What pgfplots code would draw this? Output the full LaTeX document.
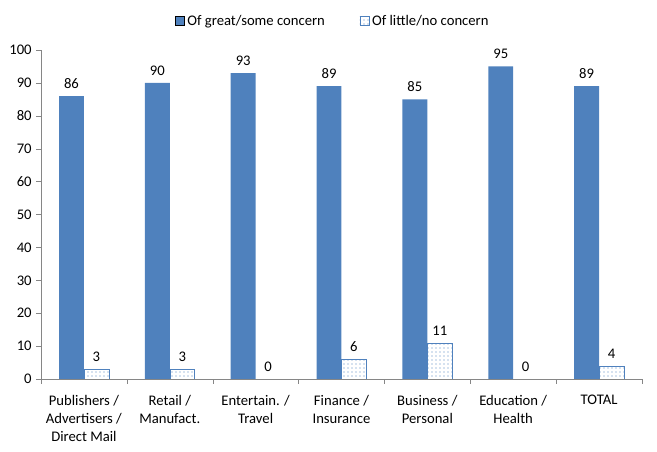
\documentclass[border=0pt]{standalone}
\usepackage{fontspec}
\setmainfont{Carlito}
\usepackage{pgfplots}
\pgfplotsset{compat=1.18}
\usetikzlibrary{patterns}
\definecolor{cblue}{RGB}{79,129,189}
\definecolor{cgray}{RGB}{134,134,134}
\begin{document}
\begin{tikzpicture}
\path[use as bounding box] (-30.75pt,-54.75pt) rectangle (462pt,284.25pt);
\begin{axis}[
  name=ax,
  scale only axis,
  width=450.75pt, height=246.75pt,
  xmin=-0.5, xmax=6.5, ymin=0, ymax=100,
  ybar=0pt, bar width=0.29,
  axis x line*=bottom, axis y line*=left,
  axis line style={cgray},
  tick align=outside,
  major tick length=3.5pt,
  tick style={cgray},
  ytick={0,10,...,100},
  xtick={0,...,6},
  xticklabels={{Publishers /\\Advertisers /\\Direct Mail}, {Retail /\\Manufact.}, {Entertain. /\\Travel}, {Finance /\\Insurance}, {Business /\\Personal}, {Education /\\Health}, TOTAL},
  x tick label style={align=center, font=\fontsize{11}{13.5}\selectfont, yshift=-5pt},
  major x tick style={draw=none},
  extra x ticks={-0.5,0.5,...,6.5},
  extra x tick labels={},
  extra x tick style={major x tick style={draw=cgray}},
  tick label style={font=\fontsize{11}{13.5}\selectfont},
  /pgf/number format/assume math mode=true,
  nodes near coords,
  every node near coord/.append style={font=\fontsize{11}{12}\selectfont, yshift=2pt, text=black},
  legend style={at={(0.486,1.088)}, anchor=center, legend columns=2, draw=none,
    font=\fontsize{11}{12}\selectfont,
    /tikz/every even column/.append style={column sep=24pt}},
  legend image code/.code={\draw[#1] (0pt,-3.5pt) rectangle (7pt,3.5pt);},
]
\addplot[fill=cblue, draw=none, bar shift=-0.145] coordinates {
  (0,86) (1,90) (2,93) (3,89) (4,85) (5,95) (6,89)
};
\addplot[draw=cblue, pattern=dots, pattern color=cblue, bar shift=0.145] coordinates {
  (0,3) (1,3) (2,0) (3,6) (4,11) (5,0) (6,4)
};
\legend{Of great/some concern, Of little/no concern}
\end{axis}
\end{tikzpicture}
\end{document}
